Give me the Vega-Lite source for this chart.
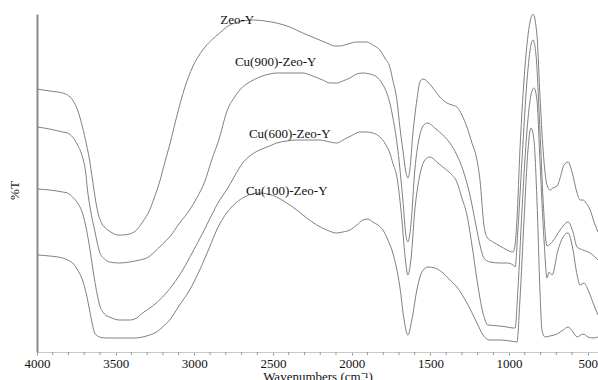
{
  "$schema": "https://vega.github.io/schema/vega-lite/v6.json",
  "width": 561,
  "height": 338,
  "autosize": {"type": "none"},
  "padding": {"left": 37, "top": 14, "right": 0, "bottom": 28},
  "background": "white",
  "config": {"view": {"stroke": null}},
  "datasets": {
    "spectra": [
      {"s":"Zeo-Y","w":4000,"t":263},{"s":"Zeo-Y","w":3920,"t":261},{"s":"Zeo-Y","w":3838,"t":259},{"s":"Zeo-Y","w":3806,"t":257},{"s":"Zeo-Y","w":3774,"t":252},{"s":"Zeo-Y","w":3742,"t":242},{"s":"Zeo-Y","w":3711,"t":225},{"s":"Zeo-Y","w":3685,"t":207},{"s":"Zeo-Y","w":3666,"t":192},{"s":"Zeo-Y","w":3647,"t":172},{"s":"Zeo-Y","w":3628,"t":152},{"s":"Zeo-Y","w":3609,"t":137},{"s":"Zeo-Y","w":3590,"t":129},{"s":"Zeo-Y","w":3558,"t":123},{"s":"Zeo-Y","w":3520,"t":119},{"s":"Zeo-Y","w":3488,"t":117},{"s":"Zeo-Y","w":3456,"t":117},{"s":"Zeo-Y","w":3412,"t":118},{"s":"Zeo-Y","w":3367,"t":122},{"s":"Zeo-Y","w":3329,"t":130},{"s":"Zeo-Y","w":3284,"t":142},{"s":"Zeo-Y","w":3253,"t":155},{"s":"Zeo-Y","w":3221,"t":170},{"s":"Zeo-Y","w":3189,"t":189},{"s":"Zeo-Y","w":3157,"t":207},{"s":"Zeo-Y","w":3113,"t":235},{"s":"Zeo-Y","w":3062,"t":264},{"s":"Zeo-Y","w":3011,"t":285},{"s":"Zeo-Y","w":2947,"t":302},{"s":"Zeo-Y","w":2890,"t":312},{"s":"Zeo-Y","w":2839,"t":319},{"s":"Zeo-Y","w":2795,"t":325},{"s":"Zeo-Y","w":2744,"t":329},{"s":"Zeo-Y","w":2693,"t":331},{"s":"Zeo-Y","w":2617,"t":332},{"s":"Zeo-Y","w":2553,"t":331},{"s":"Zeo-Y","w":2477,"t":329},{"s":"Zeo-Y","w":2394,"t":325},{"s":"Zeo-Y","w":2311,"t":319},{"s":"Zeo-Y","w":2235,"t":314},{"s":"Zeo-Y","w":2158,"t":309},{"s":"Zeo-Y","w":2108,"t":306},{"s":"Zeo-Y","w":2076,"t":306},{"s":"Zeo-Y","w":2025,"t":308},{"s":"Zeo-Y","w":1968,"t":310},{"s":"Zeo-Y","w":1904,"t":310},{"s":"Zeo-Y","w":1866,"t":307},{"s":"Zeo-Y","w":1821,"t":302},{"s":"Zeo-Y","w":1790,"t":294},{"s":"Zeo-Y","w":1758,"t":285},{"s":"Zeo-Y","w":1739,"t":272},{"s":"Zeo-Y","w":1713,"t":252},{"s":"Zeo-Y","w":1694,"t":225},{"s":"Zeo-Y","w":1675,"t":202},{"s":"Zeo-Y","w":1656,"t":180},{"s":"Zeo-Y","w":1643,"t":174},{"s":"Zeo-Y","w":1631,"t":182},{"s":"Zeo-Y","w":1611,"t":219},{"s":"Zeo-Y","w":1586,"t":252},{"s":"Zeo-Y","w":1567,"t":270},{"s":"Zeo-Y","w":1548,"t":273},{"s":"Zeo-Y","w":1516,"t":270},{"s":"Zeo-Y","w":1484,"t":264},{"s":"Zeo-Y","w":1440,"t":255},{"s":"Zeo-Y","w":1395,"t":249},{"s":"Zeo-Y","w":1363,"t":247},{"s":"Zeo-Y","w":1332,"t":245},{"s":"Zeo-Y","w":1300,"t":237},{"s":"Zeo-Y","w":1268,"t":225},{"s":"Zeo-Y","w":1236,"t":209},{"s":"Zeo-Y","w":1204,"t":192},{"s":"Zeo-Y","w":1185,"t":172},{"s":"Zeo-Y","w":1160,"t":127},{"s":"Zeo-Y","w":1141,"t":115},{"s":"Zeo-Y","w":1103,"t":110},{"s":"Zeo-Y","w":1058,"t":106},{"s":"Zeo-Y","w":1013,"t":102},{"s":"Zeo-Y","w":975,"t":100},{"s":"Zeo-Y","w":962,"t":107},{"s":"Zeo-Y","w":950,"t":132},{"s":"Zeo-Y","w":931,"t":202},{"s":"Zeo-Y","w":899,"t":285},{"s":"Zeo-Y","w":867,"t":330},{"s":"Zeo-Y","w":848,"t":338},{"s":"Zeo-Y","w":823,"t":317},{"s":"Zeo-Y","w":804,"t":257},{"s":"Zeo-Y","w":784,"t":202},{"s":"Zeo-Y","w":759,"t":167},{"s":"Zeo-Y","w":740,"t":162},{"s":"Zeo-Y","w":721,"t":164},{"s":"Zeo-Y","w":695,"t":166},{"s":"Zeo-Y","w":676,"t":174},{"s":"Zeo-Y","w":651,"t":187},{"s":"Zeo-Y","w":625,"t":190},{"s":"Zeo-Y","w":600,"t":180},{"s":"Zeo-Y","w":568,"t":159},{"s":"Zeo-Y","w":549,"t":152},{"s":"Zeo-Y","w":530,"t":152},{"s":"Zeo-Y","w":511,"t":149},{"s":"Zeo-Y","w":485,"t":142},{"s":"Zeo-Y","w":460,"t":130},{"s":"Zeo-Y","w":435,"t":120},

      {"s":"Cu900","w":4000,"t":225},{"s":"Cu900","w":3920,"t":223},{"s":"Cu900","w":3838,"t":220},{"s":"Cu900","w":3806,"t":219},{"s":"Cu900","w":3774,"t":215},{"s":"Cu900","w":3742,"t":207},{"s":"Cu900","w":3711,"t":195},{"s":"Cu900","w":3691,"t":180},{"s":"Cu900","w":3679,"t":162},{"s":"Cu900","w":3660,"t":142},{"s":"Cu900","w":3634,"t":122},{"s":"Cu900","w":3602,"t":100},{"s":"Cu900","w":3571,"t":93},{"s":"Cu900","w":3539,"t":90},{"s":"Cu900","w":3475,"t":89},{"s":"Cu900","w":3412,"t":90},{"s":"Cu900","w":3348,"t":92},{"s":"Cu900","w":3303,"t":94},{"s":"Cu900","w":3253,"t":100},{"s":"Cu900","w":3202,"t":108},{"s":"Cu900","w":3157,"t":115},{"s":"Cu900","w":3094,"t":129},{"s":"Cu900","w":3030,"t":142},{"s":"Cu900","w":2985,"t":154},{"s":"Cu900","w":2935,"t":170},{"s":"Cu900","w":2890,"t":192},{"s":"Cu900","w":2839,"t":215},{"s":"Cu900","w":2795,"t":240},{"s":"Cu900","w":2744,"t":255},{"s":"Cu900","w":2693,"t":265},{"s":"Cu900","w":2648,"t":270},{"s":"Cu900","w":2585,"t":275},{"s":"Cu900","w":2521,"t":278},{"s":"Cu900","w":2477,"t":279},{"s":"Cu900","w":2394,"t":279},{"s":"Cu900","w":2311,"t":279},{"s":"Cu900","w":2248,"t":276},{"s":"Cu900","w":2184,"t":272},{"s":"Cu900","w":2139,"t":269},{"s":"Cu900","w":2095,"t":269},{"s":"Cu900","w":2057,"t":271},{"s":"Cu900","w":2012,"t":274},{"s":"Cu900","w":1968,"t":278},{"s":"Cu900","w":1929,"t":279},{"s":"Cu900","w":1885,"t":278},{"s":"Cu900","w":1840,"t":275},{"s":"Cu900","w":1809,"t":269},{"s":"Cu900","w":1777,"t":259},{"s":"Cu900","w":1758,"t":249},{"s":"Cu900","w":1739,"t":235},{"s":"Cu900","w":1707,"t":202},{"s":"Cu900","w":1675,"t":152},{"s":"Cu900","w":1656,"t":117},{"s":"Cu900","w":1643,"t":110},{"s":"Cu900","w":1624,"t":127},{"s":"Cu900","w":1599,"t":182},{"s":"Cu900","w":1567,"t":217},{"s":"Cu900","w":1535,"t":228},{"s":"Cu900","w":1516,"t":229},{"s":"Cu900","w":1472,"t":224},{"s":"Cu900","w":1421,"t":217},{"s":"Cu900","w":1376,"t":209},{"s":"Cu900","w":1332,"t":197},{"s":"Cu900","w":1293,"t":182},{"s":"Cu900","w":1249,"t":157},{"s":"Cu900","w":1211,"t":127},{"s":"Cu900","w":1185,"t":107},{"s":"Cu900","w":1160,"t":94},{"s":"Cu900","w":1122,"t":90},{"s":"Cu900","w":1058,"t":89},{"s":"Cu900","w":1013,"t":89},{"s":"Cu900","w":975,"t":87},{"s":"Cu900","w":962,"t":85},{"s":"Cu900","w":944,"t":122},{"s":"Cu900","w":918,"t":192},{"s":"Cu900","w":886,"t":272},{"s":"Cu900","w":861,"t":307},{"s":"Cu900","w":848,"t":312},{"s":"Cu900","w":829,"t":297},{"s":"Cu900","w":804,"t":222},{"s":"Cu900","w":784,"t":152},{"s":"Cu900","w":759,"t":106},{"s":"Cu900","w":740,"t":108},{"s":"Cu900","w":721,"t":111},{"s":"Cu900","w":676,"t":122},{"s":"Cu900","w":625,"t":130},{"s":"Cu900","w":594,"t":120},{"s":"Cu900","w":568,"t":105},{"s":"Cu900","w":530,"t":102},{"s":"Cu900","w":485,"t":99},{"s":"Cu900","w":435,"t":92},

      {"s":"Cu600","w":4000,"t":163},{"s":"Cu600","w":3920,"t":162},{"s":"Cu600","w":3838,"t":160},{"s":"Cu600","w":3806,"t":159},{"s":"Cu600","w":3774,"t":155},{"s":"Cu600","w":3742,"t":149},{"s":"Cu600","w":3711,"t":139},{"s":"Cu600","w":3685,"t":122},{"s":"Cu600","w":3666,"t":105},{"s":"Cu600","w":3634,"t":72},{"s":"Cu600","w":3602,"t":47},{"s":"Cu600","w":3571,"t":38},{"s":"Cu600","w":3539,"t":35},{"s":"Cu600","w":3475,"t":32},{"s":"Cu600","w":3412,"t":32},{"s":"Cu600","w":3367,"t":34},{"s":"Cu600","w":3329,"t":39},{"s":"Cu600","w":3265,"t":46},{"s":"Cu600","w":3202,"t":55},{"s":"Cu600","w":3138,"t":67},{"s":"Cu600","w":3074,"t":82},{"s":"Cu600","w":3011,"t":100},{"s":"Cu600","w":2947,"t":119},{"s":"Cu600","w":2890,"t":137},{"s":"Cu600","w":2839,"t":152},{"s":"Cu600","w":2795,"t":162},{"s":"Cu600","w":2744,"t":176},{"s":"Cu600","w":2693,"t":189},{"s":"Cu600","w":2648,"t":196},{"s":"Cu600","w":2585,"t":202},{"s":"Cu600","w":2521,"t":206},{"s":"Cu600","w":2477,"t":209},{"s":"Cu600","w":2413,"t":211},{"s":"Cu600","w":2349,"t":212},{"s":"Cu600","w":2267,"t":212},{"s":"Cu600","w":2203,"t":212},{"s":"Cu600","w":2139,"t":210},{"s":"Cu600","w":2095,"t":209},{"s":"Cu600","w":2044,"t":213},{"s":"Cu600","w":1993,"t":217},{"s":"Cu600","w":1949,"t":220},{"s":"Cu600","w":1904,"t":220},{"s":"Cu600","w":1866,"t":219},{"s":"Cu600","w":1821,"t":215},{"s":"Cu600","w":1790,"t":209},{"s":"Cu600","w":1758,"t":199},{"s":"Cu600","w":1739,"t":189},{"s":"Cu600","w":1713,"t":175},{"s":"Cu600","w":1681,"t":132},{"s":"Cu600","w":1662,"t":97},{"s":"Cu600","w":1643,"t":77},{"s":"Cu600","w":1624,"t":92},{"s":"Cu600","w":1599,"t":142},{"s":"Cu600","w":1567,"t":177},{"s":"Cu600","w":1535,"t":192},{"s":"Cu600","w":1503,"t":195},{"s":"Cu600","w":1459,"t":190},{"s":"Cu600","w":1421,"t":185},{"s":"Cu600","w":1376,"t":179},{"s":"Cu600","w":1332,"t":170},{"s":"Cu600","w":1300,"t":154},{"s":"Cu600","w":1268,"t":137},{"s":"Cu600","w":1236,"t":107},{"s":"Cu600","w":1204,"t":72},{"s":"Cu600","w":1166,"t":39},{"s":"Cu600","w":1134,"t":27},{"s":"Cu600","w":1058,"t":26},{"s":"Cu600","w":1013,"t":25},{"s":"Cu600","w":975,"t":24},{"s":"Cu600","w":962,"t":24},{"s":"Cu600","w":944,"t":62},{"s":"Cu600","w":918,"t":142},{"s":"Cu600","w":886,"t":222},{"s":"Cu600","w":861,"t":257},{"s":"Cu600","w":842,"t":264},{"s":"Cu600","w":823,"t":252},{"s":"Cu600","w":804,"t":192},{"s":"Cu600","w":778,"t":112},{"s":"Cu600","w":759,"t":74},{"s":"Cu600","w":746,"t":80},{"s":"Cu600","w":727,"t":77},{"s":"Cu600","w":689,"t":102},{"s":"Cu600","w":657,"t":115},{"s":"Cu600","w":625,"t":119},{"s":"Cu600","w":594,"t":102},{"s":"Cu600","w":568,"t":77},{"s":"Cu600","w":549,"t":67},{"s":"Cu600","w":524,"t":69},{"s":"Cu600","w":498,"t":62},{"s":"Cu600","w":466,"t":49},{"s":"Cu600","w":435,"t":37},

      {"s":"Cu100","w":4000,"t":97},{"s":"Cu100","w":3920,"t":96},{"s":"Cu100","w":3838,"t":94},{"s":"Cu100","w":3806,"t":92},{"s":"Cu100","w":3774,"t":89},{"s":"Cu100","w":3742,"t":82},{"s":"Cu100","w":3711,"t":72},{"s":"Cu100","w":3685,"t":57},{"s":"Cu100","w":3666,"t":42},{"s":"Cu100","w":3647,"t":27},{"s":"Cu100","w":3634,"t":19},{"s":"Cu100","w":3602,"t":15},{"s":"Cu100","w":3558,"t":14},{"s":"Cu100","w":3520,"t":14},{"s":"Cu100","w":3443,"t":14},{"s":"Cu100","w":3380,"t":14},{"s":"Cu100","w":3329,"t":15},{"s":"Cu100","w":3284,"t":17},{"s":"Cu100","w":3240,"t":20},{"s":"Cu100","w":3202,"t":25},{"s":"Cu100","w":3157,"t":32},{"s":"Cu100","w":3094,"t":47},{"s":"Cu100","w":3030,"t":62},{"s":"Cu100","w":2966,"t":82},{"s":"Cu100","w":2903,"t":105},{"s":"Cu100","w":2858,"t":122},{"s":"Cu100","w":2795,"t":139},{"s":"Cu100","w":2744,"t":148},{"s":"Cu100","w":2693,"t":154},{"s":"Cu100","w":2636,"t":158},{"s":"Cu100","w":2585,"t":159},{"s":"Cu100","w":2534,"t":158},{"s":"Cu100","w":2477,"t":155},{"s":"Cu100","w":2413,"t":149},{"s":"Cu100","w":2349,"t":142},{"s":"Cu100","w":2286,"t":134},{"s":"Cu100","w":2222,"t":127},{"s":"Cu100","w":2158,"t":122},{"s":"Cu100","w":2095,"t":119},{"s":"Cu100","w":2057,"t":120},{"s":"Cu100","w":2012,"t":122},{"s":"Cu100","w":1968,"t":127},{"s":"Cu100","w":1929,"t":132},{"s":"Cu100","w":1898,"t":133},{"s":"Cu100","w":1866,"t":130},{"s":"Cu100","w":1834,"t":127},{"s":"Cu100","w":1802,"t":122},{"s":"Cu100","w":1770,"t":112},{"s":"Cu100","w":1739,"t":99},{"s":"Cu100","w":1694,"t":65},{"s":"Cu100","w":1669,"t":34},{"s":"Cu100","w":1643,"t":17},{"s":"Cu100","w":1618,"t":32},{"s":"Cu100","w":1586,"t":62},{"s":"Cu100","w":1554,"t":80},{"s":"Cu100","w":1516,"t":85},{"s":"Cu100","w":1472,"t":84},{"s":"Cu100","w":1427,"t":80},{"s":"Cu100","w":1376,"t":72},{"s":"Cu100","w":1332,"t":65},{"s":"Cu100","w":1268,"t":49},{"s":"Cu100","w":1204,"t":29},{"s":"Cu100","w":1166,"t":17},{"s":"Cu100","w":1122,"t":12},{"s":"Cu100","w":1058,"t":12},{"s":"Cu100","w":994,"t":11},{"s":"Cu100","w":950,"t":10},{"s":"Cu100","w":931,"t":52},{"s":"Cu100","w":905,"t":132},{"s":"Cu100","w":880,"t":202},{"s":"Cu100","w":861,"t":224},{"s":"Cu100","w":842,"t":212},{"s":"Cu100","w":823,"t":152},{"s":"Cu100","w":804,"t":62},{"s":"Cu100","w":791,"t":22},{"s":"Cu100","w":772,"t":15},{"s":"Cu100","w":740,"t":16},{"s":"Cu100","w":695,"t":18},{"s":"Cu100","w":657,"t":22},{"s":"Cu100","w":625,"t":25},{"s":"Cu100","w":594,"t":20},{"s":"Cu100","w":568,"t":15},{"s":"Cu100","w":530,"t":18},{"s":"Cu100","w":498,"t":15},{"s":"Cu100","w":466,"t":14},{"s":"Cu100","w":435,"t":15}
    ],
    "labels": [
      {"label":"Zeo-Y","w":2728,"t":332},
      {"label":"Cu(900)-Zeo-Y","w":2483,"t":290},
      {"label":"Cu(600)-Zeo-Y","w":2394,"t":218},
      {"label":"Cu(100)-Zeo-Y","w":2413,"t":161}
    ],
    "minor": [
      {"w":3900},{"w":3800},{"w":3700},{"w":3600},{"w":3400},{"w":3300},{"w":3200},{"w":3100},{"w":2900},{"w":2800},{"w":2700},{"w":2600},{"w":2400},{"w":2300},{"w":2200},{"w":2100},{"w":1900},{"w":1800},{"w":1700},{"w":1600},{"w":1400},{"w":1300},{"w":1200},{"w":1100},{"w":900},{"w":800},{"w":700},{"w":600}
    ]
  },
  "layer": [
    {
      "data": {"name": "spectra"},
      "mark": {"type": "line", "interpolate": "monotone", "stroke": "#808080", "strokeWidth": 1, "clip": true},
      "encoding": {
        "x": {
          "field": "w", "type": "quantitative",
          "scale": {"domain": [435, 4000], "reverse": true, "nice": false, "zero": false},
          "axis": {
            "title": "Wavenumbers (cm⁻¹)",
            "values": [4000, 3500, 3000, 2500, 2000, 1500, 1000, 500],
            "format": "d",
            "grid": false,
            "domainColor": "#c8c8c8",
            "domainWidth": 1,
            "tickColor": "#999999",
            "tickSize": 3,
            "labelFont": "Liberation Serif",
            "labelFontSize": 13,
            "labelColor": "#111111",
            "labelPadding": 2,
            "labelFlush": false,
            "labelOverlap": false,
            "titleFont": "Liberation Serif",
            "titleFontSize": 13,
            "titleFontWeight": "normal",
            "titleColor": "#111111",
            "titlePadding": 0
          }
        },
        "y": {
          "field": "t", "type": "quantitative",
          "scale": {"domain": [0, 338], "nice": false, "zero": false},
          "axis": {
            "title": "%T",
            "grid": false,
            "ticks": false,
            "labels": false,
            "domainColor": "#8a8a8a",
            "domainWidth": 2,
            "titleFont": "Liberation Serif",
            "titleFontSize": 13,
            "titleFontWeight": "normal",
            "titleColor": "#111111",
            "titlePadding": 16,
            "titleY": 176
          }
        },
        "detail": {"field": "s", "type": "nominal"},
        "order": {"field": "w", "type": "quantitative", "sort": "descending"}
      }
    },
    {
      "data": {"name": "minor"},
      "mark": {"type": "rule", "stroke": "#999999", "strokeWidth": 1, "clip": false},
      "encoding": {
        "x": {"field": "w", "type": "quantitative"},
        "y": {"datum": 0},
        "y2": {"datum": -3}
      }
    },
    {
      "data": {"name": "labels"},
      "mark": {"type": "text", "font": "Liberation Serif", "fontSize": 13, "color": "#111111", "align": "center", "baseline": "middle"},
      "encoding": {
        "x": {"field": "w", "type": "quantitative"},
        "y": {"field": "t", "type": "quantitative"},
        "text": {"field": "label"}
      }
    }
  ]
}
